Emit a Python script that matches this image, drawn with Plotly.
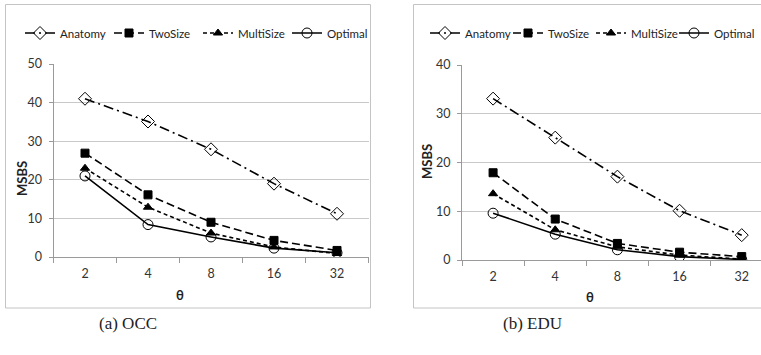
import plotly.graph_objects as go

W, H = 761, 355

theta = ["2", "4", "8", "16", "32"]
series_names = ["Anatomy", "TwoSize", "MultiSize", "Optimal"]

occ_anatomy = [41.0, 35.1, 27.9, 19.0, 11.2]
occ_twosize = [26.9, 16.1, 9.0, 4.3, 1.7]
occ_multisize = [23.0, 12.9, 6.2, 2.6, 0.9]
occ_optimal = [21.0, 8.4, 5.2, 2.3, 1.1]

edu_anatomy = [33.1, 25.1, 17.1, 10.1, 5.1]
edu_twosize = [17.9, 8.4, 3.4, 1.6, 0.7]
edu_multisize = [13.6, 6.2, 2.7, 1.0, 0.2]
edu_optimal = [9.6, 5.3, 2.1, 0.7, 0.1]

occ_ticks = [0, 10, 20, 30, 40, 50]
edu_ticks = [0, 10, 20, 30, 40]


def fx(px):
    return px / W


def fy(py):
    return 1 - py / H


FONT = "Lato, Open Sans, sans-serif"
styles = {
    "Anatomy": dict(symbol="diamond-open", size=10, dash="10px,4px,2px,4px"),
    "TwoSize": dict(symbol="square", size=8, dash="8px,4px"),
    "MultiSize": dict(symbol="triangle-up", size=8, dash="4px,3px"),
    "Optimal": dict(symbol="circle-open", size=10, dash="solid"),
}

fig = go.Figure()

panels = [
    ("x", "y", "legend", [occ_anatomy, occ_twosize, occ_multisize, occ_optimal]),
    ("x2", "y2", "legend2", [edu_anatomy, edu_twosize, edu_multisize, edu_optimal]),
]
for xa, ya, lg, data in panels:
    for name, vals in zip(series_names, data):
        st = styles[name]
        fig.add_trace(go.Scatter(
            x=theta, y=vals, name=name, xaxis=xa, yaxis=ya, legend=lg,
            mode="lines+markers",
            line=dict(color="black", width=1.6, dash=st["dash"]),
            marker=dict(symbol=st["symbol"], size=st["size"], color="black",
                        line=dict(color="black", width=1)),
        ))

axis_common = dict(showline=True, linecolor="#9a9a9a", linewidth=1,
                   tickfont=dict(family=FONT, size=12.5, color="#333"),
                   ticks="outside", tickcolor="#9a9a9a")

legend_font = dict(family=FONT, size=11.5, color="#222")

fig.update_layout(
    width=W, height=H,
    margin=dict(l=0, r=0, t=0, b=0, autoexpand=False),
    paper_bgcolor="white", plot_bgcolor="white",
    font=dict(family=FONT, size=12, color="#222"),
    xaxis=dict(domain=[fx(53.5), fx(368.5)], anchor="y", type="category",
               range=[-0.5, 4.5], showgrid=False, tickson="boundaries",
               ticklen=5, ticklabelstandoff=5, **axis_common),
    yaxis=dict(domain=[fy(257), fy(64)], anchor="x", range=[0, 50],
               tickvals=occ_ticks, showgrid=True, gridcolor="#c8c8c8",
               zeroline=False, ticklen=4, ticklabelstandoff=4, **axis_common),
    xaxis2=dict(domain=[fx(462), 1.0], anchor="y2", type="category",
                range=[-0.5, 4.31], showgrid=False, tickson="boundaries",
                ticklen=5, ticklabelstandoff=5, **axis_common),
    yaxis2=dict(domain=[fy(260), fy(65)], anchor="x2", range=[0, 40],
                tickvals=edu_ticks, showgrid=True, gridcolor="#c8c8c8",
                zeroline=False, ticklen=4, ticklabelstandoff=4, **axis_common),
    legend=dict(orientation="h", x=fx(20), y=fy(33), xanchor="left", yanchor="middle",
                entrywidth=44, entrywidthmode="pixels", itemwidth=30,
                font=legend_font, bgcolor="rgba(0,0,0,0)"),
    legend2=dict(orientation="h", x=fx(425), y=fy(33), xanchor="left", yanchor="middle",
                 entrywidth=38, entrywidthmode="pixels", itemwidth=30,
                 font=legend_font, bgcolor="rgba(0,0,0,0)"),
    showlegend=True,
)

# chart frames
fig.add_shape(type="rect", xref="paper", yref="paper",
              x0=fx(5.5), x1=fx(370.5), y0=fy(308), y1=fy(4.5),
              line=dict(color="#c4c4c4", width=1), layer="below")
fig.add_shape(type="rect", xref="paper", yref="paper",
              x0=fx(413.5), x1=fx(775), y0=fy(308), y1=fy(4.5),
              line=dict(color="#c4c4c4", width=1), layer="below")

ann = [
    dict(text="<b>MSBS</b>", x=fx(22), y=fy(179), textangle=-90, size=13, fam=FONT),
    dict(text="<b>MSBS</b>", x=fx(427), y=fy(162), textangle=-90, size=13, fam=FONT),
    dict(text="<b>θ</b>", x=fx(180), y=fy(295), textangle=0, size=13, fam=FONT),
    dict(text="<b>θ</b>", x=fx(590), y=fy(297), textangle=0, size=13, fam=FONT),
    dict(text="(a) OCC", x=fx(128), y=fy(323), textangle=0, size=17,
         fam="Liberation Serif, DejaVu Serif, serif"),
    dict(text="(b) EDU", x=fx(532), y=fy(323), textangle=0, size=17,
         fam="Liberation Serif, DejaVu Serif, serif"),
]
for a in ann:
    fig.add_annotation(text=a["text"], x=a["x"], y=a["y"], xref="paper", yref="paper",
                       xanchor="center", yanchor="middle", showarrow=False,
                       textangle=a["textangle"],
                       font=dict(family=a["fam"], size=a["size"], color="#222"))

fig.write_html("out.html")
